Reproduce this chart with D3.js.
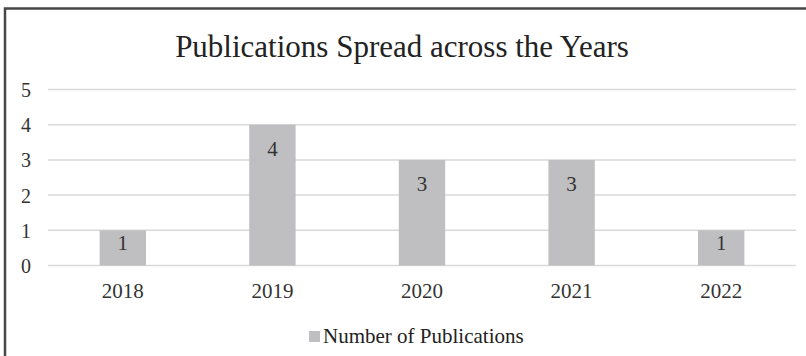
<!DOCTYPE html>
<html>
<head>
<meta charset="utf-8">
<script src="https://cdn.jsdelivr.net/npm/d3@7"></script>
<style>
  html, body { margin: 0; padding: 0; background: #fff; }
  svg { display: block; }
</style>
</head>
<body>
<svg id="chart" width="806" height="356"></svg>
<script>
const title = "Publications Spread across the Years";
const years = ["2018", "2019", "2020", "2021", "2022"];
const publications = [1, 4, 3, 3, 1];
const yTicks = [0, 1, 2, 3, 4, 5];
const seriesName = "Number of Publications";

const svg = d3.select("#chart");
const W = 806, H = 356;
const serif = "'Liberation Serif', 'Times New Roman', serif";

// outer frame
svg.append("rect")
  .attr("x", 5).attr("y", 8.5)
  .attr("width", W + 20).attr("height", H + 20)
  .attr("fill", "#fff")
  .attr("stroke", "#474747").attr("stroke-width", 2.5);

// title
svg.append("text")
  .attr("x", 402).attr("y", 57)
  .attr("text-anchor", "middle")
  .attr("font-family", serif)
  .attr("font-size", 31)
  .attr("fill", "#222")
  .text(title);

const x = d3.scaleBand().domain(years).range([48, 796]).paddingInner(0).paddingOuter(0);
const y = d3.scaleLinear().domain([0, 5]).range([265.5, 89.5]);

// gridlines
svg.append("g").selectAll("line").data(yTicks).join("line")
  .attr("x1", 48).attr("x2", 796)
  .attr("y1", d => y(d)).attr("y2", d => y(d))
  .attr("stroke", "#d9d9d9").attr("stroke-width", 1.5);

// y axis labels
const yAxis = d3.axisLeft(y).tickValues(yTicks).tickSize(0).tickPadding(0).tickFormat(d3.format("d"));
const gy = svg.append("g").attr("transform", "translate(31,0)").call(yAxis);
gy.select(".domain").remove();
gy.selectAll("text")
  .attr("font-family", serif).attr("font-size", 20).attr("fill", "#333")
  .attr("dy", "0.35em");

// x axis labels
const xAxis = d3.axisBottom(x).tickSize(0).tickPadding(0);
const gx = svg.append("g").attr("transform", "translate(0,283)").call(xAxis);
gx.select(".domain").remove();
gx.selectAll("text")
  .attr("font-family", serif).attr("font-size", 21).attr("fill", "#333")
  .attr("dy", "0.71em");

// bars
const barW = x.bandwidth() * 0.31;
const data = years.map((yr, i) => ({ yr, v: publications[i] }));
svg.append("g").selectAll("rect").data(data).join("rect")
  .attr("x", d => x(d.yr) + x.bandwidth() / 2 - barW / 2)
  .attr("width", barW)
  .attr("y", d => y(d.v))
  .attr("height", d => y(0) - y(d.v))
  .attr("fill", "#bfbfc1");

// value labels
svg.append("g").selectAll("text").data(data).join("text")
  .attr("x", d => x(d.yr) + x.bandwidth() / 2)
  .attr("y", d => y(d.v) + Math.min(31, (y(0) - y(d.v)) * 0.57))
  .attr("text-anchor", "middle")
  .attr("font-family", serif).attr("font-size", 21).attr("fill", "#333")
  .text(d => d.v);

// legend
const lg = svg.append("g");
lg.append("rect").attr("x", 309).attr("y", 331).attr("width", 11).attr("height", 11).attr("fill", "#bfbfc1");
lg.append("text").attr("x", 323).attr("y", 343)
  .attr("font-family", serif).attr("font-size", 21).attr("fill", "#222")
  .text(seriesName);
</script>
</body>
</html>
